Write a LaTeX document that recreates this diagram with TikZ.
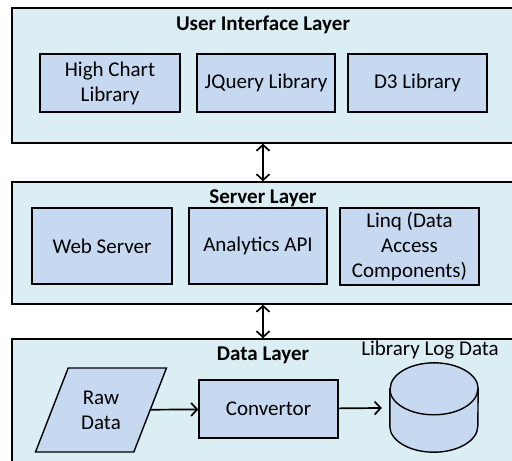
\documentclass[tikz,border=0pt]{standalone}
\usepackage{fontspec}
\setmainfont{Carlito}
\usetikzlibrary{arrows.meta,positioning,shapes.geometric}
\definecolor{layerfill}{HTML}{DAEEF3}
\definecolor{boxfill}{HTML}{C6D9F1}

\begin{document}
\begin{tikzpicture}[x=1pt,y=-1pt,>={Straight Barb[length=6pt,width=13pt]},font=\fontsize{21}{25}\selectfont]
\tikzstyle{layer}=[draw,line width=1.4pt,fill=layerfill,inner sep=0pt]
\tikzstyle{comp}=[draw,line width=1.4pt,fill=boxfill,align=center,inner sep=2pt]
\tikzstyle{title}=[font=\fontsize{21}{25}\selectfont\bfseries]
\tikzstyle{link}=[line width=1.7pt]
\useasboundingbox (0,0) rectangle (512,461);
\clip (0,0) rectangle (512,461);
% layers
\node[layer,minimum width=518,minimum height=135] (ui) at (271,75.5) {};
\node[layer,minimum width=518,minimum height=122] (srv) at (271,243) {};
\node[layer,minimum width=518,minimum height=141] (dat) at (271,409.5) {};
\node[title] (uit) at (263,25) {User Interface Layer};
\node[title] (srvt) at (263,198) {Server Layer};
\node[title] (datt) at (263,355) {Data Layer};
% user interface
\node[comp,minimum width=140,minimum height=58] (hc) at (110,83) {High Chart\\Library};
\node[comp,minimum width=138,minimum height=58] (jq) at (266,83) {JQuery Library};
\node[comp,minimum width=139,minimum height=58] (d3) at (417.5,83) {D3 Library};
% server
\node[comp,minimum width=140,minimum height=76] (web) at (102,246) {Web Server};
\node[comp,minimum width=138,minimum height=76] (api) at (258,246) {Analytics API};
\node[comp,minimum width=139,minimum height=77] (linq) at (409.5,246.5) {Linq (Data\\Access\\Components)};
% data
\node[comp,trapezium,trapezium left angle=63,trapezium right angle=117,trapezium stretches=true,
  minimum width=132,minimum height=84] (raw) at (101,410) {Raw\\Data};
\node[comp,minimum width=139,minimum height=58] (conv) at (268.5,409) {Convertor};
\node[minimum width=88,minimum height=89,inner sep=0pt] (log) at (434,407.5) {};
\draw[comp] ([yshift=-26pt]log.north west) -- ([yshift=26pt]log.south west)
  arc[start angle=180,end angle=360,x radius=44pt,y radius=26pt]
  -- ([yshift=-26pt]log.north east)
  arc[start angle=0,end angle=180,x radius=44pt,y radius=26pt] -- cycle;
\draw[line width=1.4pt] ([yshift=-26pt]log.north west)
  arc[start angle=180,end angle=360,x radius=44pt,y radius=26pt];
\node (logt) at (430,350) {Library Log Data};
\draw[link,<->] (ui.south -| uit) -- (srv.north -| uit);
\draw[link,<->] (srv.south -| uit) -- (dat.north -| uit);
\draw[link,->] (raw) -- (conv);
\draw[link,->,shorten >=8pt] (conv) -- (log);
\end{tikzpicture}
\end{document}
